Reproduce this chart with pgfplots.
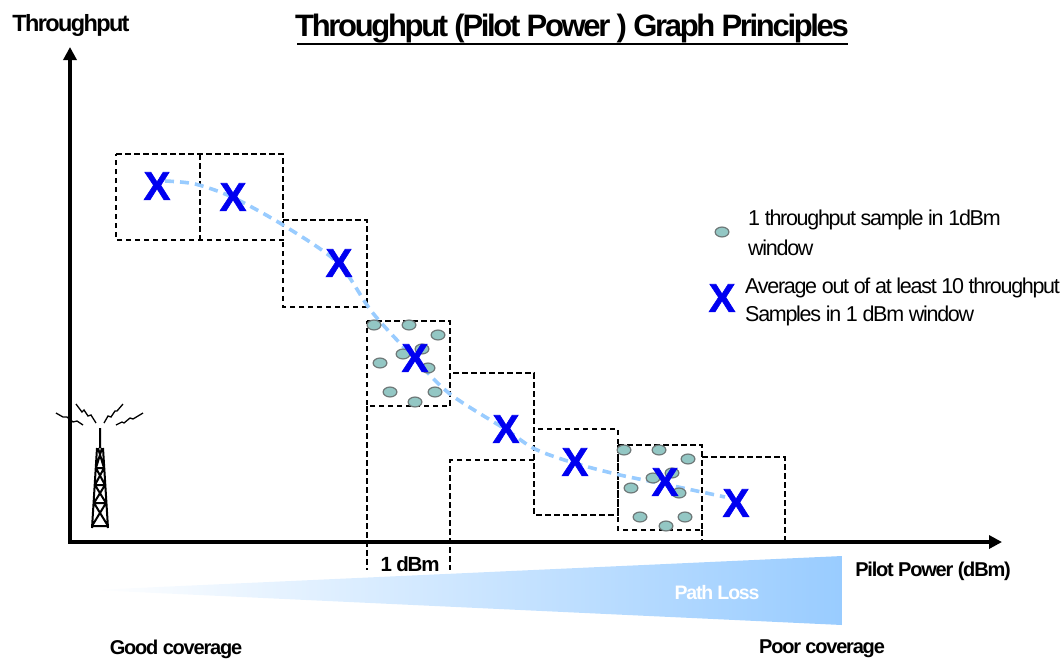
\documentclass[border=0pt]{standalone}
\usepackage{fontspec}
\setmainfont{Liberation Sans}
\usepackage{pgfplots}
\pgfplotsset{compat=1.18}
\usetikzlibrary{arrows.meta}
\definecolor{sampfill}{RGB}{147,199,196}
\definecolor{sampedge}{RGB}{110,120,120}
\definecolor{trendblue}{RGB}{153,204,255}
\definecolor{xblue}{RGB}{0,0,240}
\newcommand{\lab}[1]{\fontsize{#1}{#1}\selectfont\addfontfeature{LetterSpace=-6}}
\newcommand{\blab}[2][-6]{\fontsize{#2}{#2}\selectfont\bfseries\addfontfeature{LetterSpace=#1}}
\newcommand{\bigx}{\fontsize{40}{40}\selectfont\bfseries\addfontfeature{FakeBold=1.5}\color{xblue}X}
\pgfplotsset{sample/.style={only marks, mark=*, mark size=5.5pt,
    mark options={xscale=1.25, yscale=0.9, fill=sampfill, draw=sampedge, line width=1.2pt}}}

\pgfplotstableread{
x y
624 450
659 450
688 459
653 478
672 473
631 488
679 493
640 517
685 517
666 526
}\samplesB
\pgfplotstableread{
x y
374 325
409 325
438 335
403 354
422 349
380 363
428 368
390 392
435 392
415 402
}\samplesA
\pgfplotstableread{
x y
157 186
233 197
339 263
415 358
506 429
575 462
665 482
736 503
}\averages

\begin{document}
\begin{tikzpicture}
\begin{axis}[
    width=1064pt, height=659pt, scale only axis,
    xmin=0, xmax=1064, ymin=0, ymax=659,
    y dir=reverse,
    axis line style={draw=none},
    xtick=\empty, ytick=\empty,
    clip=false,
    unbounded coords=jump,
]
% path loss wedge
\addplot[draw=none, shade, left color=white, right color=trendblue]
    coordinates {(92,590) (842,556) (842,625)} -- cycle;

% axes
\addplot[black, line width=4pt, -{Triangle[length=13pt,width=13pt]}] coordinates {(70,542) (70,47)};
\addplot[black, line width=4pt, -{Triangle[length=13pt,width=13pt]}] coordinates {(68,542) (1002,542)};

% windows
\addplot[black, line width=1.8pt, dash pattern=on 5.5pt off 3.5pt] coordinates {
    (116,154) (283,154) (283,240) (116,240) (116,154) (nan,nan)
    (200,154) (200,240) (nan,nan)
    (283,220) (367,220) (367,307) (283,307) (283,240) (nan,nan)
    (367,406) (367,570) (nan,nan)
    (450,406) (450,373) (534,373) (534,515) (618,515) (618,429) (534,429) (nan,nan)
    (534,460) (450,460) (450,570) (nan,nan)
    (702,457) (785,457) (785,540) (nan,nan)
    (702,530) (702,540)
};
\addplot[black, line width=2.4pt, dash pattern=on 5.5pt off 3.5pt] coordinates {
    (367,321) (450,321) (450,406) (367,406) (367,321) (nan,nan)
    (618,445) (702,445) (702,530) (618,530) (618,445)
};

% samples
\addplot[sample] table[x=x,y=y] {\samplesA};
\addplot[sample] table[x=x,y=y] {\samplesB};
\addplot[sample] coordinates {(722,232)};

% averages
\addplot[only marks, mark=text, text mark={\bigx}, text mark as node=true] table[x=x,y=y] {\averages};
\addplot[only marks, mark=text, text mark={\bigx}, text mark as node=true] coordinates {(722,298)};

% trend
\addplot[trendblue, line width=3.6pt, smooth, dash pattern=on 9pt off 6pt] coordinates {
    (165,181) (195,184) (232,197) (283,225) (338,263) (372,312) (414,358)
    (450,394) (505,429) (535,449) (574,463) (620,475) (664,484) (725,497)
};

% tower
\addplot[black, line width=2pt] coordinates {
    (100,428) (100,448) (nan,nan)
    (97,448) (92,528) (nan,nan) (103,448) (108,528) (nan,nan)
    (92,526) (108,526) (nan,nan) (94,503) (106,503) (nan,nan)
    (95,485) (105,485) (nan,nan) (96,468) (104,468) (nan,nan)
    (92,526) (106,503) (nan,nan) (108,526) (94,503) (nan,nan)
    (94,503) (105,485) (nan,nan) (106,503) (95,485) (nan,nan)
    (95,485) (104,468) (nan,nan) (105,485) (96,468) (nan,nan)
    (96,468) (102,448) (nan,nan) (104,468) (98,448)
};
\addplot[black, line width=1.3pt] coordinates {
    (56,413) (63,417) (67,417) (73,422) (77,421) (83,425) (nan,nan)
    (76,404) (82,412) (84,410) (88,416) (91,415) (96,423) (nan,nan)
    (104,423) (108,416) (111,417) (115,411) (117,411) (123,404) (nan,nan)
    (116,425) (122,422) (124,423) (130,418) (133,419) (143,413)
};

% title rule
\addplot[black, line width=2pt] coordinates {(297,44) (848,44)};

% text
\node at (axis cs:572,29) {\blab[-7.5]{31}Throughput (Pilot Power ) Graph Principles};
\node at (axis cs:71,25) {\blab[-7]{23.5}Throughput};
\node at (axis cs:933,571) {\blab{20}Pilot Power (dBm)};
\node at (axis cs:410,564) {\blab{20.5}1 dBm};
\node[text=white] at (axis cs:717,593) {\blab{19.5}Path Loss};
\node at (axis cs:176,649) {\blab{20}Good coverage};
\node at (axis cs:822,649) {\blab{20}Poor coverage};
\node[anchor=west, inner sep=0pt] at (axis cs:748,220) {\lab{21.5}1 throughput sample in 1dBm};
\node[anchor=west, inner sep=0pt] at (axis cs:748,248) {\lab{21.5}window};
\node[anchor=west, inner sep=0pt] at (axis cs:745,288) {\lab{21.5}Average out of at least 10 throughput};
\node[anchor=west, inner sep=0pt] at (axis cs:745,316) {\lab{21.5}Samples in 1 dBm  window};
\end{axis}
\end{tikzpicture}
\end{document}
